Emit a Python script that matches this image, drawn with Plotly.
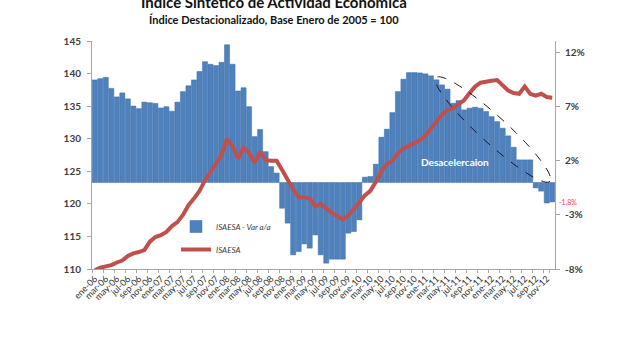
import math
import plotly.graph_objects as go

# ---------------- data ----------------
month_abbr = ["ene", "feb", "mar", "abr", "may", "jun", "jul", "ago", "sep", "oct", "nov", "dic"]
years = ["06", "07", "08", "09", "10", "11", "12"]
categories = [f"{m}-{y}" for y in years for m in month_abbr]
tick_labels = categories[::2]

# ISAESA - Var a/a (%), right axis
var_aa = [9.48, 9.60, 9.72, 8.70, 7.91, 8.28, 7.73, 7.07, 6.83, 7.43, 7.37, 7.31,
          6.89, 7.01, 6.59, 7.43, 8.40, 8.94, 9.48, 10.26, 11.17, 10.93, 10.81, 11.11,
          12.73, 10.93, 8.46, 8.76, 7.01, 4.24, 4.90, 2.85, 1.47, 0.87, -2.38, -3.76,
          -6.69, -6.39, -5.68, -6.07, -4.85, -6.69, -7.46, -7.09, -7.09, -7.09, -4.69, -4.54,
          -3.46, 0.49, 0.55, 1.69, 4.19, 4.93, 6.46, 8.40, 9.55, 10.16, 10.16, 10.13,
          10.04, 9.86, 9.49, 9.02, 8.63, 7.33, 7.57, 6.71, 6.87, 6.96, 6.87, 6.56,
          6.09, 5.63, 5.02, 4.31, 3.26, 2.09, 2.09, 2.09, -0.5, -0.8, -1.9, -1.8]

# ISAESA index (left axis)
isaesa = [109.8, 110.2, 110.4, 110.6, 111.0, 111.3, 112.0, 112.4, 112.6, 112.9, 114.2, 114.9,
          115.2, 115.7, 116.6, 117.2, 118.3, 119.8, 120.8, 122.0, 123.6, 125.0, 126.2, 127.5,
          130.0, 128.8, 127.0, 128.6, 127.8, 126.3, 128.0, 126.7, 126.6, 126.6, 125.2, 123.6,
          122.2, 121.0, 121.0, 120.8, 119.6, 120.0, 119.2, 118.6, 118.1, 117.6, 118.2, 119.1,
          120.2, 121.3, 122.0, 123.4, 125.0, 126.1, 126.6, 127.8, 128.5, 128.9, 129.3, 129.8,
          130.5, 131.5, 132.6, 133.7, 134.4, 134.7, 135.3, 135.9, 137.0, 138.0, 138.6, 138.8,
          138.9, 139.0, 138.2, 137.4, 137.0, 136.9, 138.0, 136.9, 136.6, 136.9, 136.4, 136.3]

left_ticks = [110, 115, 120, 125, 130, 135, 140, 145]
right_ticks = [-8, -3, 2, 7, 12]

# ---------------- layout constants ----------------
W, H = 622, 342
L_M, R_M, T_M, B_M = 92, 67, 41, 73
PW, PH = W - L_M - R_M, H - T_M - B_M

def px_to_paper(x, y):
    return (x - L_M) / PW, (H - B_M - y) / PH

FONT = "Lato"
BAR_C = "#4F81BD"
LINE_C = "#C0504D"

fig = go.Figure()
fig.add_trace(go.Bar(
    x=categories, y=var_aa, name="ISAESA - Var a/a", yaxis="y",
    marker=dict(color=BAR_C, line=dict(color="#3F6FA8", width=0.5)),
    legendgroup="a",
))
fig.add_trace(go.Scatter(
    x=categories, y=isaesa, name="ISAESA", yaxis="y2", mode="lines",
    line=dict(color=LINE_C, width=4), legendgroup="b",
))

# dashed tilted ellipse (annotation shape)
cx, cy, a, b, ang = 493.0, 129.5, 77.0, 13.5, math.radians(42.3)
pts = []
for i in range(73):
    t = 2 * math.pi * i / 72
    ex = cx + a * math.cos(t) * math.cos(ang) - b * math.sin(t) * math.sin(ang)
    ey = cy + a * math.cos(t) * math.sin(ang) + b * math.sin(t) * math.cos(ang)
    pts.append(px_to_paper(ex, ey))
path = "M " + " L ".join(f"{p[0]:.4f},{p[1]:.4f}" for p in pts) + " Z"

fmt_last = f"{var_aa[-1]:.1f}%".replace(".", ",")

tx, ty = px_to_paper(274, 2)
sx, sy = px_to_paper(274, 19.5)
dx, dy = px_to_paper(455, 162)
lx, _ = px_to_paper(557, 0)
legx, legy = px_to_paper(176, 212)

fig.update_layout(
    width=W, height=H,
    margin=dict(l=L_M, r=R_M, t=T_M, b=B_M, pad=0),
    paper_bgcolor="white", plot_bgcolor="white",
    bargap=0.08,
    font=dict(family=FONT, color="#404040"),
    xaxis=dict(
        type="category", categoryorder="array", categoryarray=categories,
        tickmode="array", tickvals=tick_labels, ticktext=tick_labels,
        tickangle=-45, tickfont=dict(size=9, color="#303030", family=FONT),
        showgrid=False, zeroline=False, showline=True, linecolor="#A6A6A6", linewidth=1,
        ticks="outside", ticklen=3, tickcolor="#A6A6A6", tickson="boundaries",
        range=[-0.5, len(categories) - 0.5],
    ),
    yaxis=dict(
        side="right", range=[-8, 13.08], tickmode="array", tickvals=right_ticks,
        ticktext=[f"{v}%" for v in right_ticks],
        tickfont=dict(size=10, color="#404040", family=FONT, weight="bold"),
        showgrid=False, zeroline=False, showline=True, linecolor="#A6A6A6", linewidth=1,
        ticks="outside", ticklen=4, tickcolor="#A6A6A6", ticklabelstandoff=3,
    ),
    yaxis2=dict(
        side="left", overlaying="y", range=[110, 145], tickmode="array", tickvals=left_ticks,
        tickfont=dict(size=10, color="#404040", family=FONT, weight="bold"),
        showgrid=False, zeroline=False, showline=True, linecolor="#A6A6A6", linewidth=1,
        ticks="outside", ticklen=4, tickcolor="#A6A6A6", ticklabelstandoff=4,
    ),
    legend=dict(
        x=legx, y=legy, xanchor="left", yanchor="top",
        bgcolor="rgba(0,0,0,0)", traceorder="grouped", tracegroupgap=4,
        font=dict(size=8, color="#404040", family=FONT, style="italic"),
        itemwidth=30,
    ),
    showlegend=True,
    shapes=[dict(type="path", xref="paper", yref="paper", path=path,
                 line=dict(color="#1a1a1a", width=1, dash="dash"), fillcolor="rgba(0,0,0,0)")],
    annotations=[
        dict(text="<b>Índice Sintético de Actividad Económica</b>", xref="paper", yref="paper",
             x=tx, y=ty, xanchor="center", yanchor="middle", showarrow=False,
             font=dict(size=15, color="#111111", family=FONT)),
        dict(text="<b>Índice Destacionalizado, Base Enero de 2005 = 100</b>", xref="paper", yref="paper",
             x=sx, y=sy, xanchor="center", yanchor="middle", showarrow=False,
             font=dict(size=11, color="#111111", family=FONT)),
        dict(text="<b>Desacelercaion</b>", xref="paper", yref="paper",
             x=dx, y=dy, xanchor="center", yanchor="middle", showarrow=False,
             font=dict(size=10, color="white", family=FONT)),
        dict(text=fmt_last, xref="paper", yref="y", x=lx, y=var_aa[-1] - 0.05,
             xanchor="left", yanchor="middle", showarrow=False,
             font=dict(size=7, color="#FF3B3B", family=FONT)),
    ],
)

fig.write_html("out.html")
